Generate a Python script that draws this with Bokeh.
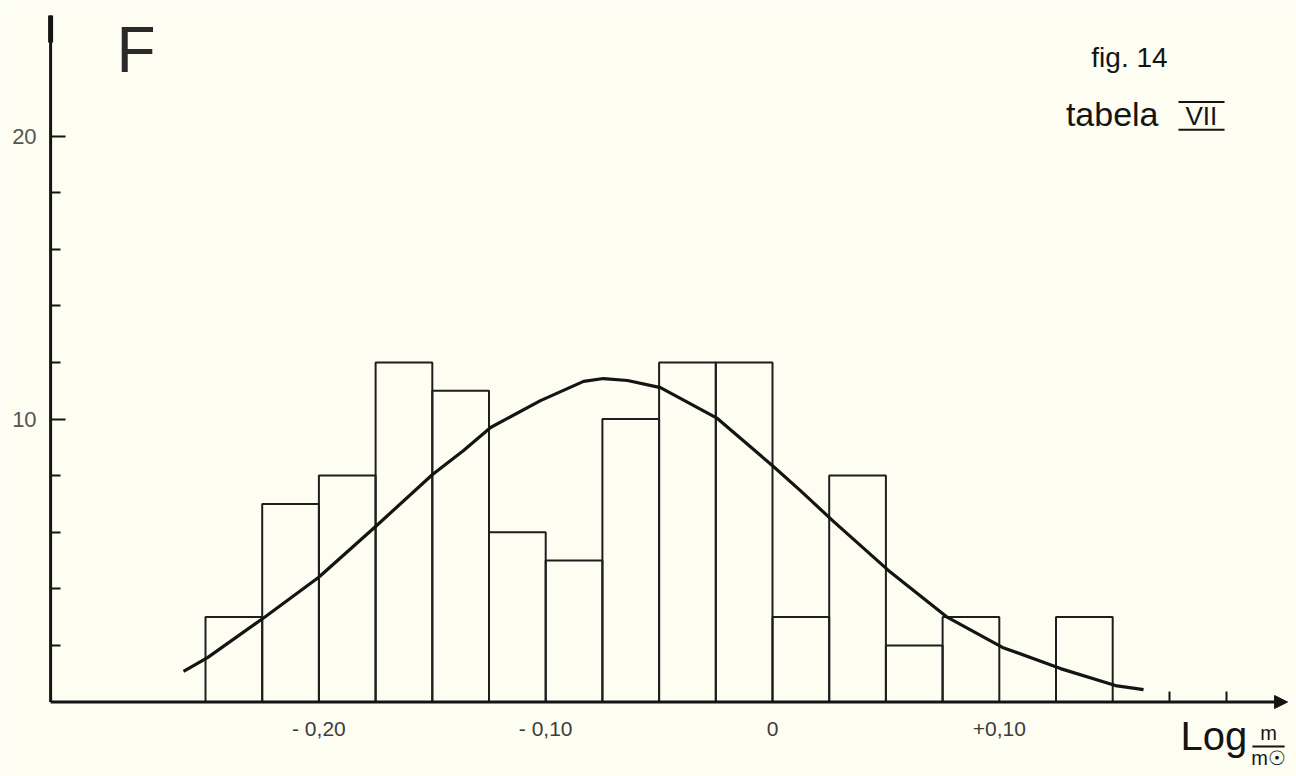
from bokeh.plotting import figure
from bokeh.models import Range1d, FixedTicker, Label, Arrow, NormalHead
from bokeh.embed import file_html
from bokeh.resources import INLINE

# ---- data ----
bin_edges = [-0.25, -0.225, -0.20, -0.175, -0.15, -0.125, -0.10, -0.075, -0.05,
             -0.025, 0, 0.025, 0.05, 0.075, 0.10, 0.125, 0.15]
counts = [3, 7, 8, 12, 11, 6, 5, 10, 12, 12, 3, 8, 2, 3, 0, 3]

curve_x = [-0.2597, -0.2491, -0.2235, -0.2002, -0.1750, -0.1499, -0.1362, -0.1243,
           -0.1023, -0.0833, -0.0745, -0.0639, -0.0494, -0.0243, 0.0004, 0.0123,
           0.0265, 0.0511, 0.0772, 0.1014, 0.1270, 0.1512, 0.1636]
curve_y = [1.08, 1.57, 3.02, 4.40, 6.20, 8.04, 8.89, 9.70,
           10.65, 11.33, 11.43, 11.36, 11.11, 10.02, 8.32, 7.47,
           6.41, 4.65, 2.99, 1.93, 1.18, 0.58, 0.44]

x_tick_values = [-0.2, -0.1, 0, 0.1]
x_tick_labels = ["- 0,20", "- 0,10", "0", "+0,10"]
x_minor_ticks = [0.175, 0.2]
y_major_ticks = [10, 20]
y_major_labels = ["10", "20"]
y_minor_ticks = [2, 4, 6, 8, 12, 14, 16, 18]

# axis extents (data units)
X_AXIS_START = -0.3183
X_AXIS_END = 0.2271
Y_AXIS_TOP = 24.26

PAPER = "#fdfdf1"
INK = "#141414"
FONT = "Liberation Sans"

p = figure(width=1296, height=776, output_backend="svg", toolbar_location=None,
           x_range=Range1d(-0.34039, 0.23104), y_range=Range1d(-2.6325, 24.788),
           min_border=0, min_border_left=0, min_border_right=0,
           min_border_top=0, min_border_bottom=0)
p.background_fill_color = PAPER
p.border_fill_color = PAPER
p.outline_line_color = None
p.grid.visible = False

# x axis (placed at y = 0)
xa = p.xaxis[0]
xa.fixed_location = 0
xa.ticker = FixedTicker(ticks=x_tick_values, minor_ticks=x_minor_ticks)
xa.major_label_overrides = dict(zip(x_tick_values, x_tick_labels))
xa.axis_line_color = None
xa.major_tick_line_color = None
xa.minor_tick_in = 11
xa.minor_tick_out = 0
xa.minor_tick_line_width = 2
xa.minor_tick_line_color = INK
xa.major_label_standoff = 9
xa.major_label_text_font = FONT
xa.major_label_text_font_size = "21px"
xa.major_label_text_color = "#3c3c3c"

# y axis (placed at the left end of the x axis)
ya = p.yaxis[0]
ya.fixed_location = X_AXIS_START
ya.ticker = FixedTicker(ticks=y_major_ticks, minor_ticks=y_minor_ticks)
ya.major_label_overrides = dict(zip(y_major_ticks, y_major_labels))
ya.axis_line_color = None
ya.major_tick_in = 15
ya.major_tick_out = 0
ya.major_tick_line_width = 2
ya.major_tick_line_color = INK
ya.minor_tick_in = 10
ya.minor_tick_out = 0
ya.minor_tick_line_width = 2
ya.minor_tick_line_color = INK
ya.major_label_standoff = 14
ya.major_label_text_font = FONT
ya.major_label_text_font_size = "22px"
ya.major_label_text_color = "#555555"

# axis lines
p.add_layout(Arrow(end=None, x_start=X_AXIS_START, y_start=0, x_end=X_AXIS_START,
                   y_end=Y_AXIS_TOP, line_width=3, line_color=INK))
p.add_layout(Arrow(end=None, x_start=X_AXIS_START, y_start=23.3, x_end=X_AXIS_START,
                   y_end=Y_AXIS_TOP, line_width=5, line_color=INK))
p.add_layout(Arrow(end=NormalHead(size=13, fill_color=INK, line_color=INK),
                   x_start=X_AXIS_START, y_start=0, x_end=X_AXIS_END, y_end=0,
                   line_width=3, line_color=INK))

# histogram bars
p.quad(left=bin_edges[:-1], right=bin_edges[1:], bottom=0, top=counts,
       fill_color=None, line_color="#1e1e1e", line_width=2)

# fitted curve
p.line(curve_x, curve_y, line_width=3.2, line_color=INK, line_join="round")

# texts
p.add_layout(Label(x=-0.2892, y=21.75, text="F", text_font=FONT,
                   text_font_size="64px", text_color="#2a2a2a"))
p.add_layout(Label(x=0.1742, y=22.24, text="fig. 14", text_font=FONT,
                   text_font_size="28px", text_color=INK, text_align="right"))
p.add_layout(Label(x=0.1702, y=20.10, text="tabela", text_font=FONT,
                   text_font_size="34px", text_color=INK, text_align="right"))
p.add_layout(Label(x=0.1891, y=20.16, text="VII", text_font=FONT,
                   text_font_size="26px", text_color=INK, text_align="center"))
p.add_layout(Arrow(end=None, x_start=0.1790, y_start=21.20, x_end=0.1993,
                   y_end=21.20, line_width=2, line_color=INK))
p.add_layout(Arrow(end=None, x_start=0.1790, y_start=20.22, x_end=0.1993,
                   y_end=20.22, line_width=2, line_color=INK))

p.add_layout(Label(x=0.1799, y=-1.99, text="Log", text_font=FONT,
                   text_font_size="40px", text_color=INK))
p.add_layout(Label(x=0.2187, y=-1.50, text="m", text_font=FONT,
                   text_font_size="20px", text_color=INK, text_align="center"))
p.add_layout(Arrow(end=None, x_start=0.2116, y_start=-1.572, x_end=0.2258,
                   y_end=-1.572, line_width=2, line_color=INK))
p.add_layout(Label(x=0.2187, y=-2.35, text="m☉", text_font=FONT,
                   text_font_size="20px", text_color=INK, text_align="center"))

open("out.html", "w").write(file_html(p, INLINE))
